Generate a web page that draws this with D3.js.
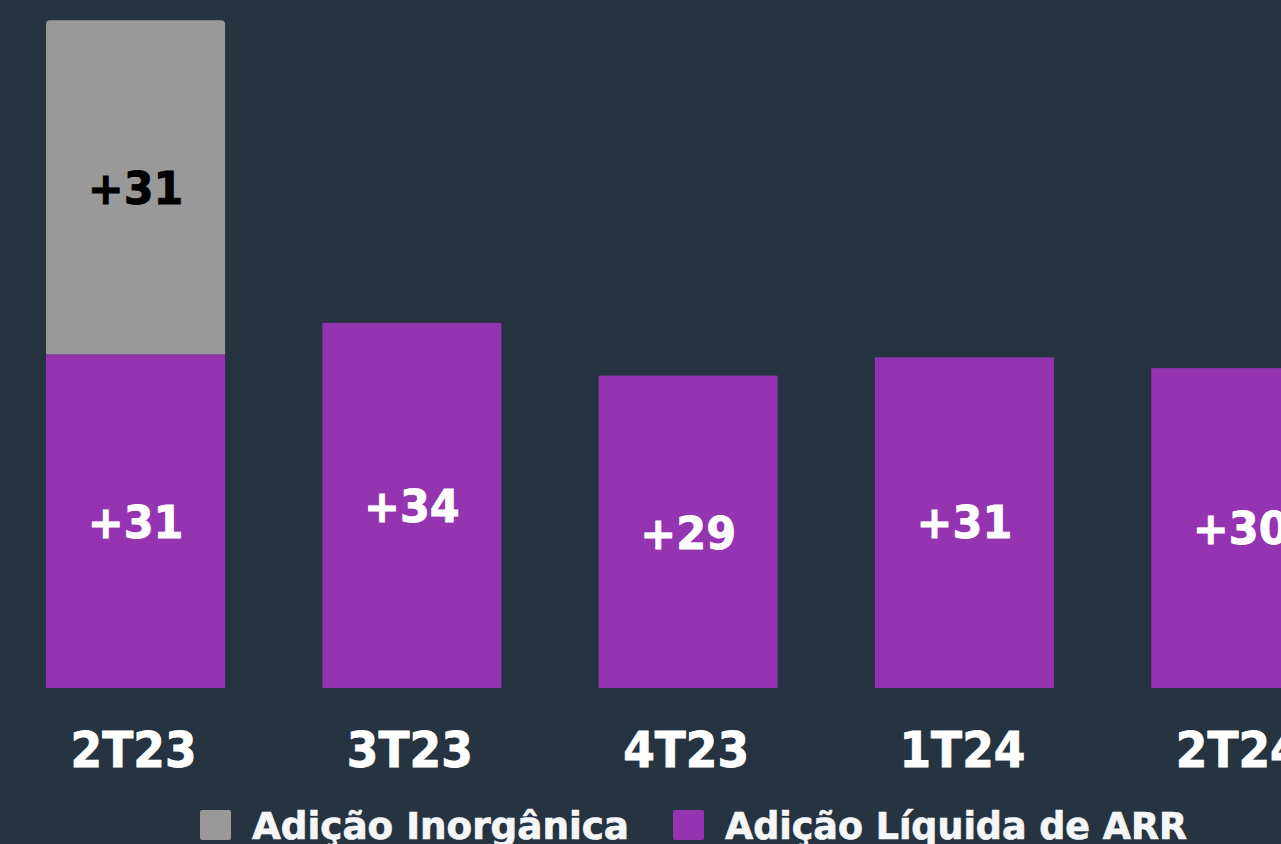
<!DOCTYPE html>
<html>
<head>
<meta charset="utf-8">
<script src="https://cdn.jsdelivr.net/npm/d3@7"></script>
<style>
  html, body { margin: 0; padding: 0; background: #263340; overflow: hidden; }
  svg { display: block; font-family: "DejaVu Sans", Verdana, sans-serif; font-weight: bold; }
</style>
</head>
<body>
<svg id="chart"></svg>
<script>
const quarters = ["2T23", "3T23", "4T23", "1T24", "2T24"];
const organic = [31, 33.9, 29, 30.7, 29.7];
const inorganic = [31, 0, 0, 0, 0];
const seriesNames = ["Adição Inorgânica", "Adição Líquida de ARR"];

const width = 1281;
const height = 844;
const baseline = 688;

const colors = { organic: "#9534b1", inorganic: "#999999" };

const svg = d3.select("#chart")
    .attr("width", width)
    .attr("height", height);

const x = d3.scaleBand()
    .domain(quarters)
    .range([-2.6, 1378.9])
    .paddingInner(0.352)
    .paddingOuter(0.176);

const y = d3.scaleLinear()
    .domain([0, 62])
    .range([baseline, baseline - 62 * 10.77]);

const rows = quarters.map((q, i) => ({ q, organic: organic[i], inorganic: inorganic[i] }));

// organic bars
svg.selectAll("rect.org")
    .data(rows)
    .enter().append("rect")
    .attr("class", "org")
    .attr("x", d => x(d.q))
    .attr("y", d => y(d.organic))
    .attr("width", x.bandwidth())
    .attr("height", d => y(0) - y(d.organic))
    .attr("fill", colors.organic);

// inorganic stacked on top, rounded top corners
const r = 4;
svg.selectAll("path.inorg")
    .data(rows.filter(d => d.inorganic > 0))
    .enter().append("path")
    .attr("class", "inorg")
    .attr("fill", colors.inorganic)
    .attr("d", d => {
        const x0 = x(d.q), x1 = x0 + x.bandwidth();
        const yb = y(d.organic), yt = y(d.organic + d.inorganic);
        return `M${x0},${yb}V${yt + r}Q${x0},${yt} ${x0 + r},${yt}H${x1 - r}Q${x1},${yt} ${x1},${yt + r}V${yb}Z`;
    });

// value labels (slightly stretched vertically like the original font)
function valueLabel(sel, cy, txt, fill) {
    sel.append("text")
        .attr("transform", d => `translate(${x(d.q) + x.bandwidth() / 2}, ${cy(d)}) scale(1, 1.04)`)
        .attr("text-anchor", "middle")
        .attr("dy", "0.36em")
        .attr("fill", fill)
        .attr("stroke", fill)
        .attr("stroke-width", 0.8)
        .attr("font-size", 43)
        .text(txt);
}

const orgG = svg.selectAll("g.org-lbl")
    .data(rows)
    .enter().append("g")
    .attr("class", "org-lbl");
valueLabel(orgG, d => (y(0) + y(Math.round(d.organic))) / 2 + 1, d => "+" + Math.round(d.organic), "#ffffff");

const inorgG = svg.selectAll("g.inorg-lbl")
    .data(rows.filter(d => d.inorganic > 0))
    .enter().append("g")
    .attr("class", "inorg-lbl");
valueLabel(inorgG, d => (y(d.organic) + y(d.organic + d.inorganic)) / 2 + 1, d => "+" + d.inorganic, "#000000");

// x axis labels
const xAxis = svg.append("g")
    .attr("transform", `translate(-2, ${baseline})`)
    .call(d3.axisBottom(x).tickSize(0).tickPadding(0));
xAxis.select(".domain").remove();
xAxis.selectAll("text")
    .attr("y", 0)
    .attr("dy", null)
    .attr("transform", "translate(0, 79) scale(1, 1.1)")
    .attr("fill", "#ffffff")
    .attr("stroke", "#ffffff")
    .attr("stroke-width", 0.8)
    .attr("font-size", 45.5)
    .attr("font-family", "DejaVu Sans, sans-serif")
    .attr("font-weight", "bold");

// legend
const legendItems = [
    { name: seriesNames[0], color: colors.inorganic, x: 200, len: 377 },
    { name: seriesNames[1], color: colors.organic, x: 673, len: 462 }
];
const lg = svg.selectAll("g.legend")
    .data(legendItems)
    .enter().append("g")
    .attr("transform", d => `translate(${d.x}, 0)`);
lg.append("rect")
    .attr("x", 0)
    .attr("y", 810)
    .attr("width", 31)
    .attr("height", 30)
    .attr("rx", 2)
    .attr("fill", d => d.color);
lg.append("text")
    .attr("x", 52)
    .attr("y", 839)
    .attr("fill", "#f5f6f7")
    .attr("stroke", "#f5f6f7")
    .attr("stroke-width", 0.7)
    .attr("font-size", 37)
    .attr("textLength", d => d.len)
    .attr("lengthAdjust", "spacingAndGlyphs")
    .text(d => d.name);
</script>
</body>
</html>
